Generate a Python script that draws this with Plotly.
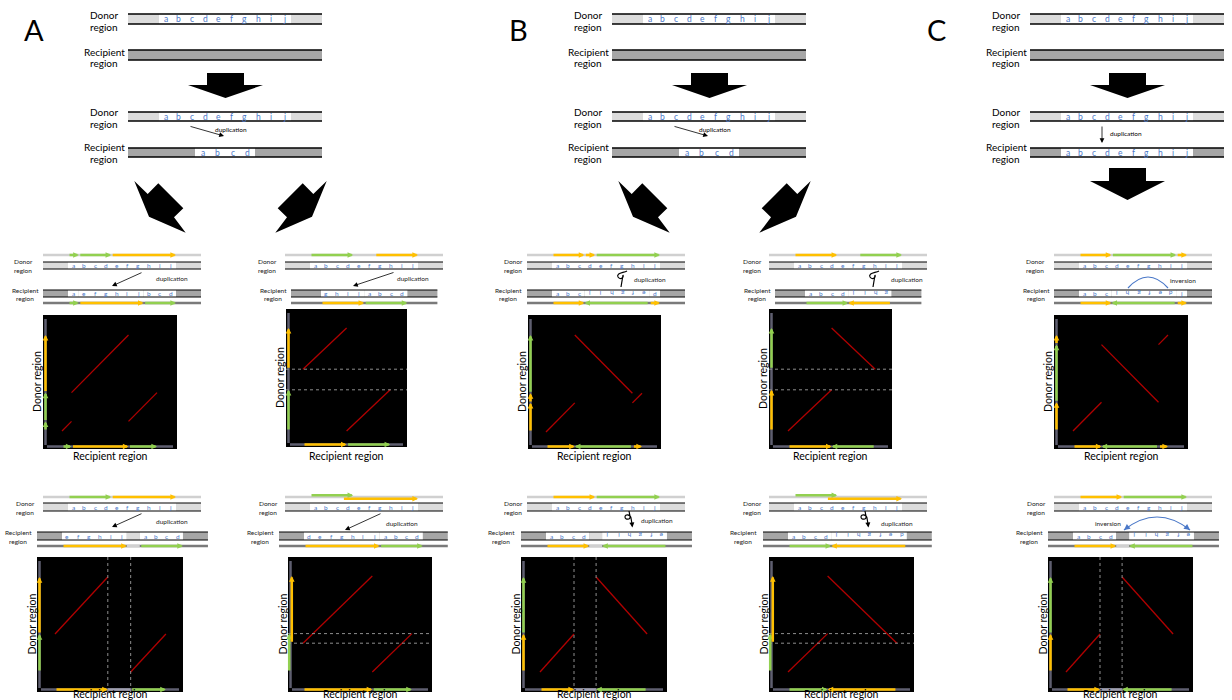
import plotly.graph_objects as go

W, H = 1232, 700
FONT = "Lato"

# ------------------------------------------------------------------ data
LETTERS = ["a", "b", "c", "d", "e", "f", "g", "h", "i", "j"]
SECTIONS = ["A", "B", "C"]
TOP_INSERT = [(0, 4), (0, 4), (0, 10)]          # donor letters copied into the recipient
TOP_EVENT_TEXT = ["duplication", "duplication", "duplication"]
ROW_LABELS = [("Donor", "region"), ("Recipient", "region")]
AXIS_TITLES = ["Donor region", "Recipient region"]

PANELS = ["A1", "A2", "B1", "B2", "C1", "A3", "A4", "B3", "B4", "C2"]

# recipient make-up: donor intervals in letter units (start > end = inverted copy, None = spacer)
REC_A1 = [(0, 1), (4, 10), (1, 4)]
REC_A2 = [(6, 10), (0, 4)]
REC_B1 = [(0, 3), (10, 4), (3, 4)]
REC_B2 = [(0, 4), (10, 6)]
REC_C1 = [(0, 3), (9, 3), (9, 10)]
REC_A3 = [(4, 10), None, (0, 4)]
REC_A4 = [(3, 10), (0, 4)]
REC_B3 = [(0, 4), None, (10, 4)]
REC_B4 = [(0, 4), (10, 3)]
REC_C2 = [(0, 4), None, (10, 4)]

# donor arrows: (start, end, colour, lane)
DON_A1 = [(0, 1, "g", 0), (1, 4, "g", 0), (4, 10, "y", 0)]
DON_A2 = [(0, 4, "g", 0), (6, 10, "y", 0)]
DON_B1 = [(0, 3, "y", 0), (3, 4, "y", 0), (4, 10, "g", 0)]
DON_B2 = [(0, 4, "y", 0), (6, 10, "g", 0)]
DON_C1 = [(0, 3, "y", 0), (3, 9, "g", 0), (9, 10, "y", 0)]
DON_A3 = [(0, 4, "g", 0), (4, 10, "y", 0)]
DON_A4 = [(0, 4, "g", -1), (3, 10, "y", 1)]
DON_B3 = [(0, 4, "y", 0), (4, 10, "g", 0)]
DON_B4 = [(0, 4, "g", -1), (3, 10, "y", 1)]
DON_C2 = [(0, 4, "y", 0), (4, 10, "g", 0)]

# colour of each recipient piece on the sequence track
RCOL_A1 = ["g", "y", "g"]
RCOL_A2 = ["y", "g"]
RCOL_B1 = ["y", "g", "y"]
RCOL_B2 = ["g", "y"]
RCOL_C1 = ["y", "g", "y"]
RCOL_A3 = ["y", None, "g"]
RCOL_A4 = ["y", "g"]
RCOL_B3 = ["y", None, "g"]
RCOL_B4 = ["g", "y"]
RCOL_C2 = ["y", None, "g"]
# colour of each recipient piece on the dot-plot axis
XCOL_A1 = ["g", "y", "g"]
XCOL_A2 = ["y", "g"]
XCOL_B1 = ["y", "g", "y"]
XCOL_B2 = ["y", "g"]
XCOL_C1 = ["y", "g", "y"]
XCOL_A3 = ["y", None, "g"]
XCOL_A4 = ["y", "g"]
XCOL_B3 = ["y", None, "g"]
XCOL_B4 = ["g", "y"]
XCOL_C2 = ["y", None, "g"]

# donor levels marked with dotted guides
GUIDES = [[], [4, 6], [], [4, 6], [], [], [3, 4], [], [3, 4], []]
EVENT_TEXT = ["duplication", "duplication", "duplication", "duplication", "inversion",
              "duplication", "duplication", "duplication", "duplication", "inversion"]

RECIPIENT = [REC_A1, REC_A2, REC_B1, REC_B2, REC_C1, REC_A3, REC_A4, REC_B3, REC_B4, REC_C2]
DONOR_ARROWS = [DON_A1, DON_A2, DON_B1, DON_B2, DON_C1, DON_A3, DON_A4, DON_B3, DON_B4, DON_C2]
REC_COLOURS = [RCOL_A1, RCOL_A2, RCOL_B1, RCOL_B2, RCOL_C1, RCOL_A3, RCOL_A4, RCOL_B3, RCOL_B4, RCOL_C2]
AXIS_COLOURS = [XCOL_A1, XCOL_A2, XCOL_B1, XCOL_B2, XCOL_C1, XCOL_A3, XCOL_A4, XCOL_B3, XCOL_B4, XCOL_C2]

# ------------------------------------------------------------------ styles / layout
COL = {"g": "#92d050", "y": "#ffc000"}
BLUE = "#4a78c8"
LIGHT = "#dcdcdc"
DARK = "#a6a6a6"
TRACK_LIGHT = "#d0d0d0"
TRACK_DARK = "#7a7a7a"
AXGRAY = "#5f5f70"
AXGAP = "#a0a0b0"
GUIDE = "#8e8e8e"
RED = "#b00000"

SHIFT = [0, 484, 902]
TOP_X0, TOP_X1, TOP_W0, TOP_U = 128, 322, 159, 13.2
TOP_ROWS = [(14, 24), (50, 60), (112, 121), (148, 157)]
TOP_LAB_Y = [(15, 27), (52, 63), (112, 124), (147, 159)]
TOP_LAB_X = 104
INSERT_X0 = [195, 195, 159]
INSERT_U = [15, 15, 13.2]

ROWS = [dict(top=255, d0=262, d1=269, r0=290, r1=297, bot=303, ld=(261, 270), lr=(290, 298.5)),
        dict(top=497, d0=503, d1=511, r0=532, r1=540, bot=546, ld=(503, 512), lr=(532, 541))]
PANEL_ROW = [0, 0, 0, 0, 0, 1, 1, 1, 1, 1]
DON_X0 = [68, 310, 552, 794, 1079, 68, 310, 552, 794, 1079]
REC_X0 = [68, 321, 552, 805, 1079, 62, 304, 546, 788, 1073]
REC_FLANK = [25, 30, 25, 30, 25, 25, 25, 25, 25, 25]
FLANK, U, SEQ_GAP = 25, 10.8, 1.2
GAP_FILL = [None, None, None, None, None, LIGHT, None, LIGHT, None, DARK]
LBL_DON_X = [23, 267, 513, 752, 1035, 25, 268, 513, 752, 1036]
LBL_REC_X = [25, 273, 508, 757, 1036, 18, 260, 501, 743, 1029]

EVENT_KIND = ["arrow", "arrow", "loop", "loop", "arc", "arrow", "arrow", "loopdown", "loopdown", "arc"]
EVENT_GEOM = [(143, 272, 112, 286), (395, 272, 353, 286), (622, 279), (874, 279), (1128, 1168, 277, 288),
              (143, 513, 112, 527), (382, 513, 345, 530), (630, 519), (866, 519), (1124, 1190, 517, 530)]
EVENT_TXT_POS = [(172, 278), (413, 278), (650, 279), (907, 279), (1183, 280),
                 (172, 521), (402, 523), (657, 520), (897, 523), (1108, 523)]

BOX = [(43, 177, 315, 449), (286, 407, 309, 447), (528, 661, 315, 449), (769, 892, 309, 449),
       (1054, 1188, 315, 449), (37, 183, 557, 692), (288, 432, 557, 692), (521, 667, 557, 692),
       (769, 914, 557, 692), (1048, 1193, 557, 692)]
ORIGIN = [(62, 431), (303, 431), (546, 432), (788, 431), (1073, 431),
          (55, 672), (303, 672), (540, 672), (788, 672), (1066, 672)]
SCALE = [(9.5, 9.6), (10.9, 10.3), (9.6, 9.7), (10.9, 10.3), (9.5, 9.6),
         (8.8, 9.5), (9.9, 9.6), (8.5, 9.5), (9.9, 9.6), (8.5, 9.5)]
DOT_GAP = 2.6
REC_TITLE_Y = [456, 694]

ann, shapes = [], []


def text(x, y, s, size, color="#000", xref="x", yref="y", angle=0, xanchor="center"):
    ann.append(dict(x=x, y=y, xref=xref, yref=yref, text=s, showarrow=False, textangle=angle,
                    xanchor=xanchor, yanchor="middle", font=dict(size=size, color=color, family=FONT)))


def arrow(x0, y0, x1, y1, color, width, size, xref="x", yref="y", head=2):
    ann.append(dict(x=x1, y=y1, ax=x0, ay=y0, xref=xref, yref=yref, axref=xref, ayref=yref, text="",
                    showarrow=True, arrowhead=head, arrowsize=size, arrowwidth=width, arrowcolor=color,
                    standoff=0, startstandoff=0))


def line(x0, y0, x1, y1, color, width, xref="x", yref="y", dash=None):
    shapes.append(dict(type="line", x0=x0, y0=y0, x1=x1, y1=y1, xref=xref, yref=yref,
                       line=dict(color=color, width=width, dash=dash)))


def rect(x0, y0, x1, y1, fill, xref="x", yref="y", layer="above"):
    shapes.append(dict(type="rect", x0=x0, y0=y0, x1=x1, y1=y1, xref=xref, yref=yref,
                       fillcolor=fill, line=dict(width=0), layer=layer))


def path(d, fill=None, color="black", width=0):
    shapes.append(dict(type="path", path=d, xref="x", yref="y", fillcolor=fill,
                       line=dict(color=color, width=width)))


def poly(pts):
    return "M " + " L ".join(f"{x:.1f},{y:.1f}" for x, y in pts) + " Z"


def down_arrow(cx, top, sh=12, hh=13, sw=37, hw=75):
    pts = [(cx - sw / 2, top), (cx + sw / 2, top), (cx + sw / 2, top + sh), (cx + hw / 2, top + sh),
           (cx, top + sh + hh), (cx - hw / 2, top + sh), (cx - sw / 2, top + sh)]
    path(poly(pts), fill="black", width=0)


DIAG_LEFT = [(134.3, 181), (147.7, 194), (158.3, 183.3), (183.3, 208.3), (174, 217.3), (185.7, 232.7), (149, 216.7)]

# ------------------------------------------------------------------ top summary diagrams
for si, name in enumerate(SECTIONS):
    dx = SHIFT[si]
    text(34 + dx, 29, name, 29)
    for r in range(4):
        y0, y1 = TOP_ROWS[r]
        if r in (0, 2):
            rect(TOP_X0 + dx, y0, TOP_X1 + dx, y1, LIGHT)
            rect(TOP_W0 + dx, y0, TOP_W0 + dx + 10 * TOP_U, y1, "white")
            for i, l in enumerate(LETTERS):
                text(TOP_W0 + dx + (i + 0.5) * TOP_U, (y0 + y1) / 2, l, 8.5, BLUE)
            labs = ROW_LABELS[0]
        else:
            rect(TOP_X0 + dx, y0, TOP_X1 + dx, y1, DARK)
            if r == 3:
                s, e = TOP_INSERT[si]
                x0 = INSERT_X0[si] + dx
                rect(x0, y0, x0 + (e - s) * INSERT_U[si], y1, "white")
                for j, li in enumerate(range(s, e)):
                    text(x0 + (j + 0.5) * INSERT_U[si], (y0 + y1) / 2, LETTERS[li], 8.5, BLUE)
            labs = ROW_LABELS[1]
        line(TOP_X0 + dx, y0, TOP_X1 + dx, y0, "black", 1.3)
        line(TOP_X0 + dx, y1, TOP_X1 + dx, y1, "black", 1.3)
        text(TOP_LAB_X + dx, TOP_LAB_Y[r][0], labs[0], 10)
        text(TOP_LAB_X + dx, TOP_LAB_Y[r][1], labs[1], 10)
    down_arrow(225.5 + dx, 73)
    if si < 2:
        arrow(189 + dx, 126, 224 + dx, 136, "black", 0.8, 1.2)
        text(231 + dx, 129.5, TOP_EVENT_TEXT[si], 6.5)
        path(poly([(x + dx, y) for x, y in DIAG_LEFT]), fill="black")
        path(poly([(461 - x + dx, y) for x, y in DIAG_LEFT]), fill="black")
    else:
        arrow(200 + dx, 125, 200 + dx, 143, "black", 0.8, 1.2)
        text(224 + dx, 133, TOP_EVENT_TEXT[si], 6.5)
        down_arrow(225.5 + dx, 168, sh=13, hh=19)

# ------------------------------------------------------------------ panel sequence diagrams
for k in range(10):
    row = ROWS[PANEL_ROW[k]]
    d0x = DON_X0[k]
    ox0, ox1 = d0x - FLANK, d0x + 10 * U + FLANK
    rect(ox0, row["d0"], ox1, row["d1"], LIGHT)
    rect(d0x, row["d0"], d0x + 10 * U, row["d1"], "white")
    line(ox0, row["d0"], ox1, row["d0"], "black", 1)
    line(ox0, row["d1"], ox1, row["d1"], "black", 1)
    ym = (row["d0"] + row["d1"]) / 2
    for i, l in enumerate(LETTERS):
        text(d0x + (i + 0.5) * U, ym, l, 6.5, BLUE)
    line(ox0, row["top"], ox1, row["top"], TRACK_LIGHT, 2.5)
    for s, e, c, lane in DONOR_ARROWS[k]:
        y = row["top"] + lane * 1.8
        arrow(d0x + s * U, y, d0x + e * U, y, COL[c], 2.5, 0.45)
    text(LBL_DON_X[k], row["ld"][0], ROW_LABELS[0][0], 6.5, "#222")
    text(LBL_DON_X[k], row["ld"][1], ROW_LABELS[0][1], 6.5, "#222")

    pieces = RECIPIENT[k]
    total = sum(SEQ_GAP if p is None else abs(p[1] - p[0]) for p in pieces)
    r0x = REC_X0[k]
    rx0, rx1 = r0x - REC_FLANK[k], r0x + total * U + REC_FLANK[k]
    rect(rx0, row["r0"], rx1, row["r1"], DARK)
    line(rx0, row["bot"], rx1, row["bot"], TRACK_DARK, 2.5)
    ymr = (row["r0"] + row["r1"]) / 2
    cur = 0.0
    for p, c in zip(pieces, REC_COLOURS[k]):
        xa = r0x + cur * U
        if p is None:
            xb = xa + SEQ_GAP * U
            rect(xa, row["r0"], xb, row["r1"], GAP_FILL[k])
            line(xa, row["bot"], xb, row["bot"], TRACK_LIGHT, 2.5)
            cur += SEQ_GAP
            continue
        s, e = p
        L = abs(e - s)
        xb = xa + L * U
        rect(xa, row["r0"], xb, row["r1"], "white")
        idx = list(range(s, e)) if s < e else list(range(s - 1, e - 1, -1))
        for j, li in enumerate(idx):
            text(xa + (j + 0.5) * U, ymr, LETTERS[li], 6.5, BLUE, angle=0 if s < e else 180)
        if s < e:
            arrow(xa, row["bot"], xb, row["bot"], COL[c], 2.5, 0.45)
        else:
            arrow(xb, row["bot"], xa, row["bot"], COL[c], 2.5, 0.45)
        cur += L
    line(rx0, row["r0"], rx1, row["r0"], "black", 1)
    line(rx0, row["r1"], rx1, row["r1"], "black", 1)
    text(LBL_REC_X[k], row["lr"][0], ROW_LABELS[1][0], 6.5, "#222")
    text(LBL_REC_X[k], row["lr"][1], ROW_LABELS[1][1], 6.5, "#222")

    # event glyph
    kind, g = EVENT_KIND[k], EVENT_GEOM[k]
    tx, ty = EVENT_TXT_POS[k]
    text(tx, ty, EVENT_TEXT[k], 6.5, "#222")
    if kind == "arrow":
        arrow(g[0], g[1], g[2], g[3], "black", 0.8, 1.2)
    elif kind == "loop":
        cx, cy = g
        path(f"M {cx+5},{cy-8} C {cx+1},{cy-6} {cx-6},{cy-6} {cx-4},{cy-2} "
             f"C {cx-2},{cy+1} {cx+2},{cy-1} {cx+1},{cy-4} L {cx-1},{cy+8}", color="black", width=1.2)
    elif kind == "loopdown":
        cx, cy = g
        path(f"M {cx-1},{cy-8} L {cx},{cy-3} C {cx+1},{cy+1} {cx-5},{cy+1} {cx-5},{cy-2} "
             f"C {cx-5},{cy-5} {cx},{cy-5} {cx+1},{cy-1} L {cx+2},{cy+5}", color="black", width=1.2)
        arrow(cx + 1.8, cy + 3, cx + 2.4, cy + 8.5, "black", 1, 1.0)
    else:
        x0, x1, pk, base = g
        xc = (x0 + x1) / 2
        yc = 2 * pk - base
        path(f"M {x0},{base} Q {xc},{yc} {x1},{base}", color="#4a78c8", width=1.2)
        arrow(x0 + (xc - x0) * 0.12, base + (yc - base) * 0.12, x0, base, "#4a78c8", 1.2, 1.0)
        arrow(x1 + (xc - x1) * 0.12, base + (yc - base) * 0.12, x1, base, "#4a78c8", 1.2, 1.0)

# ------------------------------------------------------------------ dot plots
fig = go.Figure()
fig.add_trace(go.Scatter(x=[None], y=[None], showlegend=False, hoverinfo="skip"))
axes = {}


def to_ux(k, p):
    return (p - ORIGIN[k][0]) / SCALE[k][0]


def to_uy(k, p):
    return (ORIGIN[k][1] - p) / SCALE[k][1]


for k in range(10):
    a = k + 2
    xr, yr = f"x{a}", f"y{a}"
    bx0, bx1, by0, by1 = BOX[k]
    axes[f"xaxis{a}"] = dict(domain=[bx0 / W, bx1 / W], range=[to_ux(k, bx0), to_ux(k, bx1)],
                             anchor=yr, visible=False, fixedrange=True)
    axes[f"yaxis{a}"] = dict(domain=[1 - by1 / H, 1 - by0 / H], range=[to_uy(k, by1), to_uy(k, by0)],
                             anchor=xr, visible=False, fixedrange=True)
    rect(to_ux(k, bx0), to_uy(k, by1), to_ux(k, bx1), to_uy(k, by0), "black", xref=xr, yref=yr, layer="below")
    yx = to_ux(k, bx0 + 2.5)
    line(yx, to_uy(k, by1 - 4), yx, to_uy(k, by0 + 4), AXGRAY, 2.5, xr, yr)
    xy = to_uy(k, by1 - 2.5)
    line(to_ux(k, bx0 + 4), xy, to_ux(k, bx1 - 4), xy, AXGRAY, 2.5, xr, yr)
    for gv in GUIDES[k]:
        line(to_ux(k, bx0), gv, to_ux(k, bx1), gv, GUIDE, 1, xr, yr, dash="dot")
    for s, e, c, lane in DONOR_ARROWS[k]:
        xx = to_ux(k, bx0 + 2.5 + lane * 1.3)
        arrow(xx, s, xx, e, COL[c], 2.5, 0.45, xr, yr)
    cur = 0.0
    xs, ys = [], []
    for p, c in zip(RECIPIENT[k], AXIS_COLOURS[k]):
        if p is None:
            line(cur, xy, cur + DOT_GAP, xy, AXGAP, 2.5, xr, yr)
            for xv in (cur, cur + DOT_GAP):
                line(xv, to_uy(k, by1), xv, to_uy(k, by0), GUIDE, 1, xr, yr, dash="dot")
            cur += DOT_GAP
            continue
        s, e = p
        L = abs(e - s)
        if s < e:
            arrow(cur, xy, cur + L, xy, COL[c], 2.5, 0.45, xr, yr)
        else:
            arrow(cur + L, xy, cur, xy, COL[c], 2.5, 0.45, xr, yr)
        xs += [cur, cur + L, None]
        ys += [s, e, None]
        cur += L
    fig.add_trace(go.Scatter(x=xs, y=ys, mode="lines", line=dict(color=RED, width=1.3),
                             xaxis=xr, yaxis=yr, hoverinfo="skip", showlegend=False))
    # axis titles sit outside the dot-plot ranges, so they are placed on the page axes
    text(bx0 - 6, (by0 + by1) / 2, AXIS_TITLES[0], 10.5, angle=-90)
    text((bx0 + bx1) / 2, REC_TITLE_Y[PANEL_ROW[k]], AXIS_TITLES[1], 10.5)

fig.update_layout(
    width=W, height=H, margin=dict(l=0, r=0, t=0, b=0),
    paper_bgcolor="white", plot_bgcolor="rgba(0,0,0,0)", showlegend=False,
    xaxis=dict(range=[0, W], domain=[0, 1], visible=False, fixedrange=True),
    yaxis=dict(range=[H, 0], domain=[0, 1], visible=False, fixedrange=True),
    shapes=shapes, annotations=ann, **axes,
)
fig.write_html("out.html", config={"displayModeBar": False},
               post_script="document.body.style.margin='0px';")
